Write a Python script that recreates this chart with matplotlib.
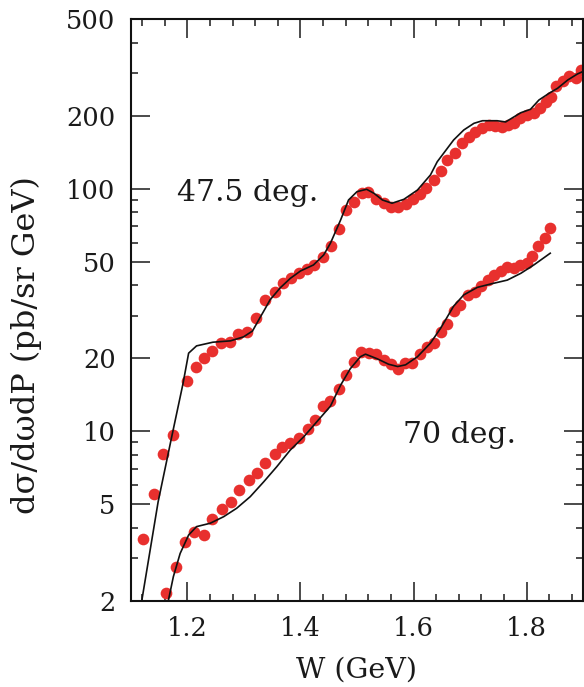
import matplotlib
matplotlib.use("Agg")
import matplotlib.pyplot as plt
from matplotlib.ticker import FixedLocator, MultipleLocator, NullFormatter, FixedFormatter

# Measured cross sections, 47.5 deg.
w_475 = [1.104, 1.122, 1.140, 1.157, 1.175, 1.199, 1.215, 1.229, 1.244, 1.260,
         1.276, 1.290, 1.306, 1.322, 1.338, 1.354, 1.369, 1.383, 1.397, 1.412,
         1.424, 1.440, 1.454, 1.468, 1.481, 1.495, 1.508, 1.520, 1.533, 1.547,
         1.560, 1.573, 1.586, 1.599, 1.612, 1.623, 1.636, 1.648, 1.660, 1.673,
         1.685, 1.698, 1.709, 1.721, 1.734, 1.745, 1.757, 1.767, 1.778, 1.789,
         1.801, 1.813, 1.824, 1.835, 1.844, 1.853, 1.864, 1.875, 1.887, 1.896]
xs_475 = [1.88, 3.59, 5.50, 8.07, 9.69, 16.2, 18.5, 20.1, 21.5, 23.1,
          23.4, 25.2, 25.6, 29.4, 34.8, 37.6, 40.7, 42.7, 45.0, 46.7,
          48.5, 52.4, 58.2, 68.0, 81.3, 88.4, 96.0, 96.9, 90.4, 86.9,
          84.3, 84.3, 86.3, 90.7, 95.5, 100.3, 108.6, 118.8, 131.3, 140.7,
          153.8, 163.3, 170.4, 177.4, 182.9, 180.7, 180.0, 182.1, 186.5, 194.9,
          202.1, 204.4, 215.4, 228.2, 239.3, 266.1, 278.2, 292.6, 286.3, 309.2]

# Measured cross sections, 70 deg.
w_70 = [1.162, 1.180, 1.196, 1.212, 1.229, 1.244, 1.261, 1.277, 1.292, 1.308,
        1.323, 1.338, 1.354, 1.367, 1.381, 1.397, 1.413, 1.425, 1.439, 1.453,
        1.468, 1.481, 1.494, 1.507, 1.521, 1.534, 1.547, 1.560, 1.572, 1.585,
        1.598, 1.612, 1.624, 1.636, 1.648, 1.660, 1.672, 1.683, 1.696, 1.708,
        1.719, 1.731, 1.742, 1.754, 1.766, 1.778, 1.789, 1.800, 1.810, 1.820,
        1.832, 1.842]
xs_70 = [2.16, 2.77, 3.49, 3.86, 3.74, 4.35, 4.79, 5.14, 5.75, 6.29,
         6.74, 7.39, 8.05, 8.65, 8.98, 9.36, 10.2, 11.1, 12.7, 13.3,
         14.9, 17.1, 19.3, 21.3, 21.1, 20.9, 19.6, 18.9, 18.1, 19.2,
         19.1, 20.8, 22.2, 23.1, 25.7, 27.7, 31.3, 33.3, 36.3, 37.6,
         39.6, 42.2, 43.9, 45.7, 47.7, 47.0, 48.3, 49.3, 53.0, 57.9,
         62.4, 68.7]

# Model calculation curves
wm_475 = [1.119, 1.148, 1.172, 1.192, 1.202, 1.216, 1.245, 1.276, 1.299, 1.315,
          1.329, 1.338, 1.346, 1.364, 1.382, 1.400, 1.423, 1.441, 1.453, 1.471,
          1.485, 1.500, 1.517, 1.530, 1.545, 1.562, 1.583, 1.607, 1.630, 1.642,
          1.671, 1.689, 1.707, 1.722, 1.748, 1.763, 1.790, 1.807, 1.822, 1.840,
          1.855, 1.873, 1.890, 1.899]
ym_475 = [2.0, 5.12, 9.48, 15.7, 21.0, 22.5, 23.3, 23.6, 24.5, 25.9,
          29.6, 32.2, 34.8, 39.0, 42.7, 45.8, 48.5, 53.3, 59.6, 74.3,
          89.8, 97.2, 99.4, 95.7, 89.8, 87.1, 90.4, 98.7, 113.9, 129.1,
          158.7, 174.5, 185.9, 190.5, 190.5, 188.3, 205.6, 212.3, 231.9, 247.2,
          259.2, 280.4, 296.8, 303.3]

wm_70 = [1.166, 1.175, 1.187, 1.202, 1.216, 1.240, 1.264, 1.287, 1.311, 1.335,
         1.358, 1.382, 1.406, 1.429, 1.453, 1.471, 1.488, 1.506, 1.515, 1.536,
         1.556, 1.572, 1.586, 1.607, 1.630, 1.648, 1.671, 1.689, 1.713, 1.737,
         1.766, 1.790, 1.813, 1.842]
ym_70 = [2.0, 2.52, 3.14, 3.74, 4.05, 4.18, 4.45, 4.82, 5.38, 6.20,
         7.15, 8.38, 9.51, 10.96, 12.7, 15.5, 18.1, 20.3, 20.8, 19.9,
         18.9, 18.5, 18.8, 20.3, 23.1, 26.6, 32.8, 36.5, 39.2, 40.5,
         42.0, 44.8, 48.5, 54.2]

x_major = [1.2, 1.4, 1.6, 1.8]
x_labels = ["1.2", "1.4", "1.6", "1.8"]
y_major = [2, 5, 10, 20, 50, 100, 200, 500]
y_labels = ["2", "5", "10", "20", "50", "100", "200", "500"]
y_minor = [3, 4, 6, 7, 8, 9, 30, 40, 60, 70, 80, 90, 300, 400]

plt.rcParams["font.family"] = ["DejaVu Serif"]
plt.rcParams["mathtext.fontset"] = "dejavuserif"

ink = "#1a1a1a"
fig = plt.figure(figsize=(5.84, 6.87), dpi=100)
ax = fig.add_axes([0.2243, 0.1252, 0.774, 0.8471])

red = "#e8302e"
ax.plot(w_475, xs_475, "o", color=red, ms=8.4, mec="none", zorder=2)
ax.plot(w_70, xs_70, "o", color=red, ms=8.4, mec="none", zorder=2)
ax.plot(wm_475, ym_475, "-", color="#111111", lw=1.2, zorder=3)
ax.plot(wm_70, ym_70, "-", color="#111111", lw=1.2, zorder=3)

ax.set_yscale("log")
ax.set_xlim(1.1, 1.9)
ax.set_ylim(2, 500)

ax.xaxis.set_major_locator(FixedLocator(x_major))
ax.xaxis.set_major_formatter(FixedFormatter(x_labels))
ax.xaxis.set_minor_locator(MultipleLocator(0.04))
ax.yaxis.set_major_locator(FixedLocator(y_major))
ax.yaxis.set_major_formatter(FixedFormatter(y_labels))
ax.yaxis.set_minor_locator(FixedLocator(y_minor))
ax.yaxis.set_minor_formatter(NullFormatter())

ax.tick_params(which="both", direction="in", top=True, right=True, colors=ink)
ax.tick_params(which="major", length=14, width=1.1, labelsize=18.5, pad=11)
ax.tick_params(which="minor", length=5, width=1.1)
for s in ax.spines.values():
    s.set_linewidth(1.5)
    s.set_color("#111111")

ax.set_xlabel("W (GeV)", fontsize=20.5, color=ink)
ax.xaxis.set_label_coords(0.5, -0.095)
ax.xaxis.label.set_va("top")
ax.set_ylabel("dσ/dωdP (pb/sr GeV)", fontsize=23, color=ink)
ax.yaxis.set_label_coords(-0.197, 0.44)
ax.yaxis.label.set_va("bottom")

ax.text(1.181, 89, "47.5 deg.", fontsize=21.5, ha="left", va="baseline", color=ink)
ax.text(1.582, 8.95, "70 deg.", fontsize=21.5, ha="left", va="baseline", color=ink)

fig.savefig("out.png", dpi=100)
